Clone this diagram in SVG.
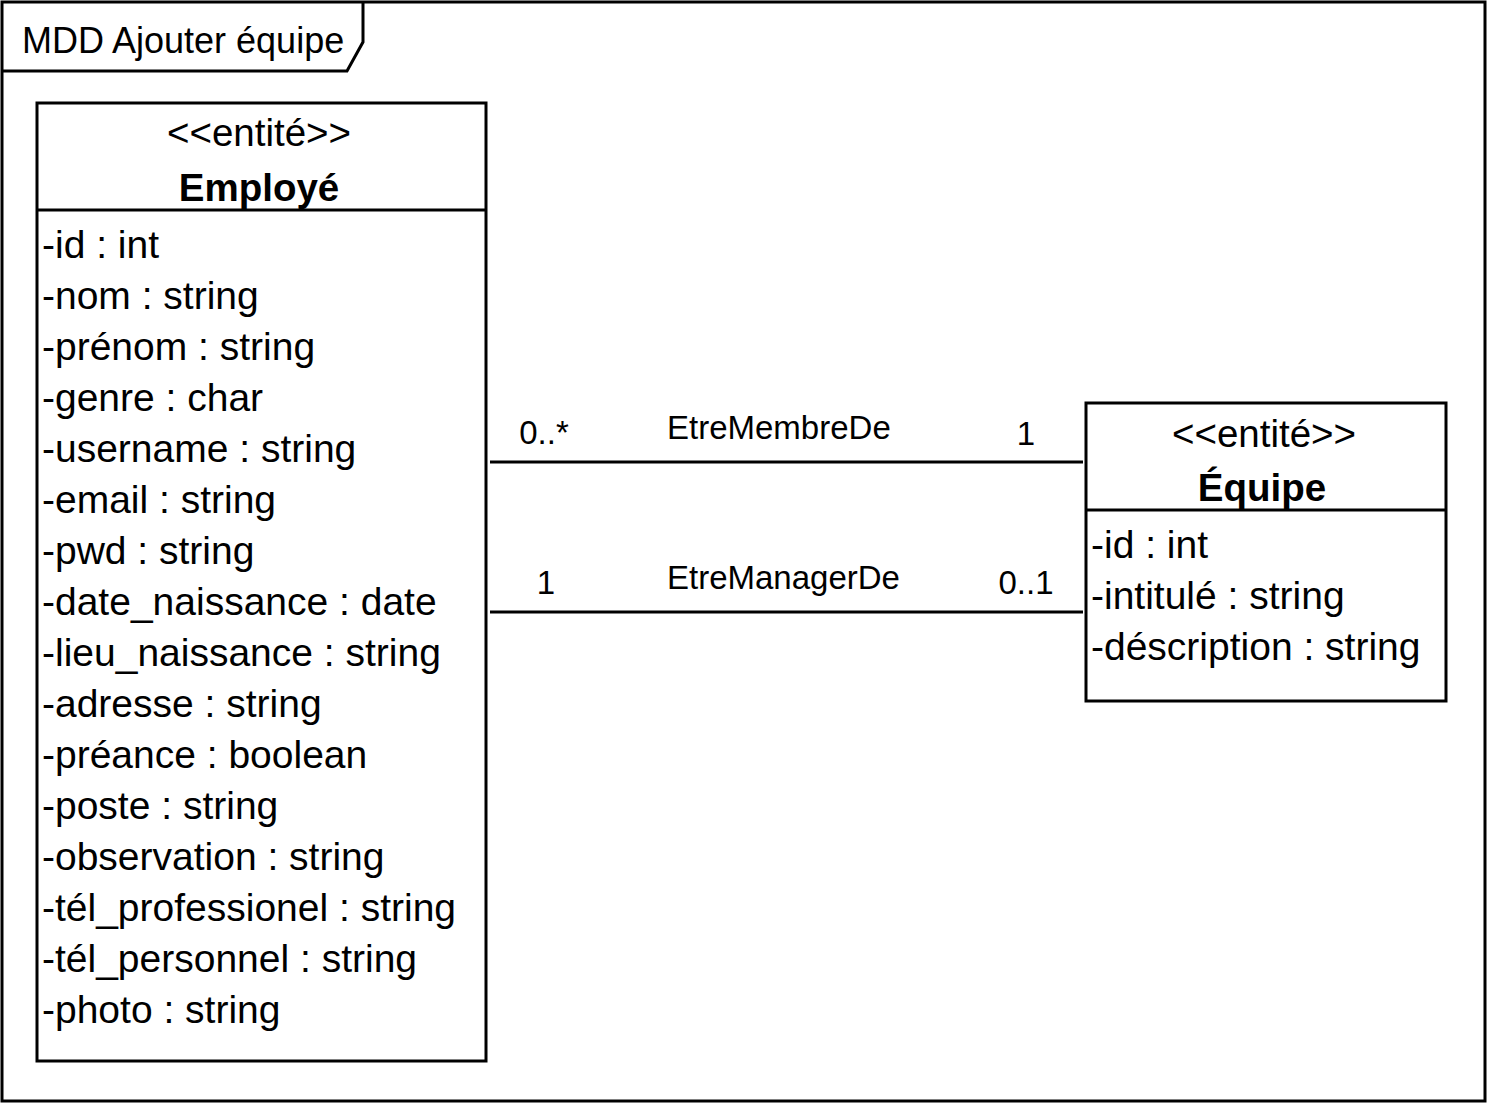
<svg xmlns="http://www.w3.org/2000/svg" width="1488" height="1104" viewBox="0 0 1488 1104">
<style>
.s{fill:none;stroke:#000;stroke-width:3}
.b{fill:#fff;stroke:#000;stroke-width:3}
text{font-family:"Liberation Sans",Arial,sans-serif;fill:#000}
.a{font-size:39px}
.c{font-size:38.5px;text-anchor:middle}
.h{font-size:38.5px;font-weight:bold;text-anchor:middle}
.l{font-size:33px}
.m{font-size:33px;text-anchor:middle}
</style>
<rect x="0" y="0" width="1488" height="1104" fill="#fff"/>
<g id="frame">
<rect class="s" x="2" y="2" width="1483" height="1099"/>
<path class="s" d="M2 71 H347 L363 42 V2"/>
<text x="22" y="53" style="font-size:36px">MDD Ajouter équipe</text>
</g>
<g id="connectors">
<line class="s" x1="490" y1="462" x2="1083" y2="462"/>
<text class="m" x="544" y="444">0..*</text>
<text class="l" x="667" y="439">EtreMembreDe</text>
<text class="m" x="1026" y="445">1</text>
<line class="s" x1="490" y1="612" x2="1083" y2="612"/>
<text class="m" x="546" y="594">1</text>
<text class="l" x="667" y="589">EtreManagerDe</text>
<text class="m" x="1026" y="594">0..1</text>
</g>
<g id="employe">
<rect class="b" x="37" y="103" width="449" height="958"/>
<line class="s" x1="37" y1="210" x2="486" y2="210"/>
<text class="c" x="259" y="146">&lt;&lt;entité&gt;&gt;</text>
<text class="h" x="259" y="201">Employé</text>
<text class="a" x="42" y="258">-id : int</text>
<text class="a" x="42" y="309">-nom : string</text>
<text class="a" x="42" y="360">-prénom : string</text>
<text class="a" x="42" y="411">-genre : char</text>
<text class="a" x="42" y="462">-username : string</text>
<text class="a" x="42" y="513">-email : string</text>
<text class="a" x="42" y="564">-pwd : string</text>
<text class="a" x="42" y="615">-date_naissance : date</text>
<text class="a" x="42" y="666">-lieu_naissance : string</text>
<text class="a" x="42" y="717">-adresse : string</text>
<text class="a" x="42" y="768">-préance : boolean</text>
<text class="a" x="42" y="819">-poste : string</text>
<text class="a" x="42" y="870">-observation : string</text>
<text class="a" x="42" y="921">-tél_professionel : string</text>
<text class="a" x="42" y="972">-tél_personnel : string</text>
<text class="a" x="42" y="1023">-photo : string</text>
</g>
<g id="equipe">
<rect class="b" x="1086" y="403" width="360" height="298"/>
<line class="s" x1="1086" y1="510" x2="1446" y2="510"/>
<text class="c" x="1264" y="447">&lt;&lt;entité&gt;&gt;</text>
<text class="h" x="1262" y="501">Équipe</text>
<text class="a" x="1091" y="558">-id : int</text>
<text class="a" x="1091" y="609">-intitulé : string</text>
<text class="a" x="1091" y="660">-déscription : string</text>
</g>
</svg>
